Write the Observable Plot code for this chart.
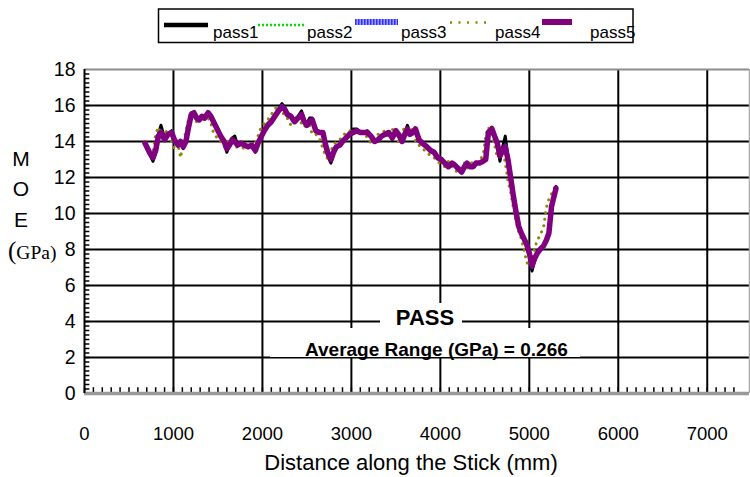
<!DOCTYPE html>
<html><head><meta charset="utf-8">
<script src="https://cdn.jsdelivr.net/npm/d3@7"></script>
<script src="https://cdn.jsdelivr.net/npm/@observablehq/plot@0.6"></script>
<style>
html,body{margin:0;padding:0;background:#fff;}
#wrap{width:750px;height:477px;font-family:"Liberation Sans",Arial,sans-serif;background:#fff;}
#wrap svg{display:block}
</style></head><body><div id="wrap"></div>
<script>
const distances = [680,730,770,800,830,860,900,940,980,1010,1050,1080,1110,1140,1170,1200,1230,1260,1290,1320,1350,1390,1420,1450,1490,1530,1570,1600,1630,1660,1690,1720,1760,1800,1840,1880,1920,1950,1980,2020,2060,2100,2140,2180,2220,2250,2280,2320,2360,2400,2440,2470,2500,2530,2560,2600,2640,2680,2710,2740,2770,2800,2830,2870,2900,2940,2980,3020,3060,3100,3140,3180,3220,3260,3300,3340,3380,3420,3460,3500,3530,3570,3600,3630,3660,3690,3720,3760,3800,3850,3890,3930,3970,4010,4050,4090,4130,4160,4200,4240,4270,4300,4330,4370,4400,4440,4480,4510,4540,4580,4610,4640,4670,4700,4730,4760,4790,4820,4850,4880,4910,4940,4970,5000,5030,5060,5090,5120,5160,5190,5220,5250,5280,5300];
const pass1 = [13.9,13.3,12.9,13.4,14.4,14.9,14.2,14.4,14.6,14.1,13.8,14.0,13.6,14.0,14.9,15.6,15.6,15.3,15.3,15.4,15.3,15.6,15.5,15.2,14.8,14.4,14.0,13.4,13.8,14.2,14.3,13.8,13.9,13.8,13.7,13.8,13.4,13.9,14.2,14.6,15.0,15.2,15.5,15.8,16.1,15.9,15.6,15.4,15.2,15.4,15.7,15.2,15.0,15.3,15.3,14.7,14.5,14.5,13.7,13.1,12.8,13.3,13.7,13.8,14.0,14.2,14.5,14.7,14.7,14.5,14.5,14.6,14.3,14.0,14.1,14.3,14.4,14.5,14.1,14.6,14.4,14.0,14.5,14.9,14.4,14.6,14.7,14.0,13.9,13.7,13.5,13.4,13.1,13.0,12.8,12.6,12.8,12.7,12.5,12.3,12.6,12.8,12.6,12.6,12.8,12.8,12.9,13.0,14.6,14.8,14.3,13.8,12.9,13.7,14.3,13.1,12.1,11.1,10.2,9.3,8.9,8.6,8.2,7.6,6.8,7.4,7.8,8.0,8.2,8.5,8.9,10.4,11.1,11.5];
const pass2 = [13.9,13.5,13.2,13.5,14.2,14.5,14.1,14.3,14.5,14.1,13.8,14.1,13.8,14.0,14.7,15.4,15.6,15.3,15.2,15.4,15.3,15.5,15.4,15.1,14.7,14.3,14.0,13.7,13.8,14.1,14.0,13.8,13.9,13.8,13.7,13.8,13.6,13.9,14.2,14.6,14.9,15.1,15.3,15.7,15.9,15.8,15.5,15.3,15.1,15.3,15.5,15.1,14.9,15.1,15.2,14.6,14.5,14.4,13.8,13.4,13.1,13.4,13.7,13.8,14.0,14.2,14.4,14.5,14.6,14.5,14.5,14.5,14.3,14.1,14.1,14.3,14.4,14.5,14.2,14.5,14.4,14.1,14.4,14.7,14.4,14.5,14.6,14.1,13.9,13.7,13.5,13.4,13.2,13.0,12.8,12.7,12.8,12.7,12.5,12.4,12.6,12.8,12.6,12.7,12.8,12.8,12.9,13.1,14.4,14.7,14.3,13.9,13.3,13.5,13.7,13.0,12.1,11.0,10.1,9.3,8.9,8.6,8.3,7.8,7.2,7.5,7.8,8.0,8.2,8.5,8.9,10.3,11.0,11.4];
const pass3 = [13.9,13.4,13.1,13.6,14.3,14.6,14.1,14.4,14.5,14.0,13.8,14.0,13.7,14.1,14.8,15.5,15.6,15.3,15.2,15.4,15.3,15.6,15.4,15.1,14.7,14.3,14.0,13.6,13.8,14.1,14.0,13.8,13.9,13.8,13.7,13.8,13.5,13.9,14.2,14.6,14.9,15.1,15.4,15.7,16.0,15.8,15.5,15.4,15.1,15.3,15.5,15.1,14.9,15.1,15.2,14.6,14.5,14.5,13.8,13.3,13.0,13.4,13.7,13.8,14.0,14.2,14.4,14.5,14.6,14.5,14.5,14.5,14.3,14.0,14.1,14.3,14.4,14.5,14.2,14.6,14.4,14.0,14.4,14.7,14.4,14.5,14.7,14.1,13.9,13.7,13.5,13.4,13.1,13.0,12.8,12.6,12.8,12.7,12.5,12.3,12.6,12.8,12.6,12.6,12.8,12.8,12.9,13.0,14.5,14.7,14.3,13.9,13.2,13.5,13.8,13.0,12.0,11.0,10.1,9.3,8.9,8.6,8.3,7.8,7.0,7.5,7.8,8.0,8.2,8.5,8.9,10.4,11.0,11.4];
const pass4 = [14.0,13.3,13.4,14.4,14.8,14.3,14.5,14.6,14.0,13.6,13.9,13.1,13.9,14.6,15.2,15.6,15.3,15.1,15.4,15.3,15.5,15.3,15.0,14.5,14.2,14.0,13.7,13.9,14.1,14.0,13.7,13.7,13.7,13.6,13.8,13.6,13.9,14.3,14.7,15.0,15.2,15.5,15.8,16.0,15.7,15.4,15.3,14.9,15.2,15.4,15.0,14.8,15.0,14.9,14.4,14.4,14.2,13.6,13.2,13.0,13.5,13.8,14.0,14.1,14.3,14.5,14.6,14.6,14.5,14.6,14.5,14.2,13.9,14.2,14.4,14.5,14.6,14.2,14.7,14.3,14.0,14.5,14.8,14.3,14.6,14.7,14.0,13.8,13.6,13.4,13.2,13.1,12.9,12.7,12.6,12.9,12.6,12.4,12.3,12.6,12.8,12.5,12.7,12.9,12.8,13.0,13.2,14.3,14.8,14.4,13.8,13.1,13.4,13.6,12.8,11.8,11.2,10.3,9.6,9.0,8.6,8.0,7.3,7.1,7.4,8.1,8.5,8.8,9.2,10.3,10.8,11.1,11.4,11.6];
const pass5 = [13.9,13.4,13.1,13.5,14.3,14.5,14.1,14.4,14.5,14.1,13.8,14.0,13.7,14.0,14.8,15.5,15.6,15.3,15.2,15.4,15.3,15.6,15.4,15.1,14.7,14.3,14.0,13.6,13.8,14.1,14.0,13.8,13.9,13.8,13.7,13.8,13.5,13.9,14.2,14.6,14.9,15.1,15.4,15.7,15.9,15.8,15.5,15.4,15.1,15.3,15.5,15.1,14.9,15.1,15.2,14.6,14.5,14.5,13.8,13.3,13.0,13.4,13.7,13.8,14.0,14.2,14.4,14.5,14.6,14.5,14.5,14.5,14.3,14.0,14.1,14.3,14.4,14.5,14.2,14.6,14.4,14.0,14.4,14.7,14.4,14.5,14.7,14.1,13.9,13.7,13.5,13.4,13.1,13.0,12.8,12.6,12.8,12.7,12.5,12.3,12.6,12.8,12.6,12.6,12.8,12.8,12.9,13.0,14.5,14.7,14.3,13.9,13.2,13.5,13.7,13.0,12.0,11.0,10.1,9.3,8.9,8.6,8.3,7.8,7.1,7.5,7.8,8.0,8.2,8.5,8.9,10.4,11.0,11.4];

const seriesNames = ["pass1","pass2","pass3","pass4","pass5"];
const xTicks = [0,1000,2000,3000,4000,5000,6000,7000];
const yTicks = [0,2,4,6,8,10,12,14,16,18];
const xMax = 7475;
const minorX = d3.range(0, 7400, 100);
const minorY = d3.range(0, 18, 0.25);
const xLabel = "Distance along the Stick (mm)";
const yLetters = ["M","O","E"];
const yUnitOpen = "(";
const yUnitRest = "GPa)";
const statusText = "PASS";
const rangeText = "Average Range (GPa) = 0.266";

const allPasses = [pass1, pass2, pass3, pass4, pass5];
const rows = seriesNames.flatMap((s, k) => distances.map((d, i) => ({series: s, x: d, y: allPasses[k][i]})));

const lineStyles = [
  {stroke: "#000000", strokeWidth: 3},
  {stroke: "#00e000", strokeWidth: 2, strokeDasharray: "2,2"},
  {stroke: "#3030ff", strokeWidth: 3.5},
  {stroke: "#8a8a00", strokeWidth: 3, strokeDasharray: "0.1,6.5", strokeLinecap: "round"},
  {stroke: "#800080", strokeWidth: 5.5}
];

const FONT = "Liberation Sans, Arial, sans-serif";

const chart = Plot.plot({
  width: 750, height: 427,
  marginLeft: 84, marginRight: 1, marginTop: 19, marginBottom: 84,
  style: {fontFamily: FONT, fontSize: "18px", color: "#000", background: "#fff", overflow: "visible"},
  x: {domain: [0, xMax], label: null},
  y: {domain: [0, 18], label: null},
  marks: [
    Plot.ruleY(yTicks.filter(v => v > 0 && v < 18), {stroke: "#000", strokeWidth: 2}),
    Plot.ruleX(xTicks.filter(v => v > 0), {stroke: "#000", strokeWidth: 2}),
    Plot.ruleY([18], {stroke: "#8c8c8c", strokeWidth: 2}),
    Plot.ruleX([xMax], {stroke: "#a8a8a8", strokeWidth: 1.5}),
    ...seriesNames.map((s, k) => Plot.line(rows.filter(r => r.series === s), {x: "x", y: "y", strokeLinejoin: "round", ...lineStyles[k]})),
    Plot.ruleX(minorX, {y1: 0, y2: 0.32, stroke: "#000", strokeWidth: 1.5}),
    Plot.ruleY(minorY, {x1: 0, x2: 60, stroke: "#000", strokeWidth: 1.5}),
    Plot.ruleY([0], {stroke: "#999", strokeWidth: 3.5}),
    Plot.ruleX([0], {stroke: "#000", strokeWidth: 2}),
    Plot.axisX({ticks: xTicks, tickSize: 0, tickPadding: 33, fontSize: 18.5, tickFormat: d3.format("d"), label: null}),
    Plot.axisY({ticks: yTicks, tickSize: 0, tickPadding: 9, fontSize: 19.5, tickFormat: d3.format("d"), label: null})
  ]
});

const svg = d3.select(chart);
const ys = chart.scale("y");
const y2 = ys.apply(2);
// annotation boxes
svg.append("rect").attr("x", 380).attr("y", 253).attr("width", 82).attr("height", 28).attr("fill", "#fff");
svg.append("text").attr("x", 425).attr("y", 275).attr("text-anchor", "middle")
  .attr("font-size", 22).attr("font-weight", "bold").attr("font-family", FONT).text(statusText);
svg.append("rect").attr("x", 270).attr("y", 278).attr("width", 310).attr("height", y2 - 278).attr("fill", "#fff");
svg.append("line").attr("x1", 270).attr("x2", 580).attr("y1", y2 + 0.5).attr("y2", y2 + 0.5).attr("stroke", "#000").attr("stroke-width", 1);
svg.append("text").attr("x", 305).attr("y", 305.5).attr("text-anchor", "start")
  .attr("font-size", 19).attr("font-weight", "bold").attr("font-family", FONT).text(rangeText);
// y label
const yl = svg.append("g").attr("font-family", FONT).attr("font-size", 21).attr("text-anchor", "middle");
yLetters.forEach((t, i) => yl.append("text").attr("x", 21).attr("y", 115.5 + i * 30.8).text(t));
const unit = svg.append("text").attr("x", 8).attr("y", 209).attr("text-anchor", "start")
  .attr("font-family", "Liberation Serif, Times New Roman, serif");
unit.append("tspan").attr("font-size", 25).text(yUnitOpen);
unit.append("tspan").attr("font-size", 19.5).text(yUnitRest);
// x label
svg.append("text").attr("x", 411).attr("y", 420).attr("text-anchor", "middle")
  .attr("font-size", 22).attr("font-family", FONT).text(xLabel);

// legend
const legendSvg = d3.create("svg").attr("width", 750).attr("height", 50)
  .attr("font-family", FONT).attr("font-size", 17);
legendSvg.append("rect").attr("x", 158.5).attr("y", 9).attr("width", 474.5).attr("height", 33.5)
  .attr("fill", "#fff").attr("stroke", "#000").attr("stroke-width", 1.5);
const swatches = [
  {x1: 164, x2: 208, y: 25, w: 4.5, lx: 213},
  {x1: 258, x2: 305, y: 25, w: 2.5, lx: 307},
  {x1: 355, x2: 398, y: 22, w: 6, lx: 401},
  {x1: 450, x2: 492, y: 22.5, w: 2.5, lx: 495},
  {x1: 542, x2: 572, y: 22, w: 6, lx: 590}
];
swatches.forEach((s, k) => {
  const st = lineStyles[k];
  if (k === 2) {
    legendSvg.append("line").attr("x1", s.x1).attr("x2", s.x2).attr("y1", s.y).attr("y2", s.y)
      .attr("stroke", "#9a9aff").attr("stroke-width", s.w);
  }
  legendSvg.append("line").attr("x1", s.x1).attr("x2", s.x2).attr("y1", s.y).attr("y2", s.y)
    .attr("stroke", st.stroke).attr("stroke-width", s.w)
    .attr("stroke-dasharray", k === 2 ? "1.5,1.5" : (k === 3 ? "2,6.5" : (st.strokeDasharray || null)));
  legendSvg.append("text").attr("x", s.lx).attr("y", 38).text(seriesNames[k]);
});

const wrap = document.getElementById("wrap");
wrap.append(legendSvg.node());
wrap.append(chart);
</script></body></html>
